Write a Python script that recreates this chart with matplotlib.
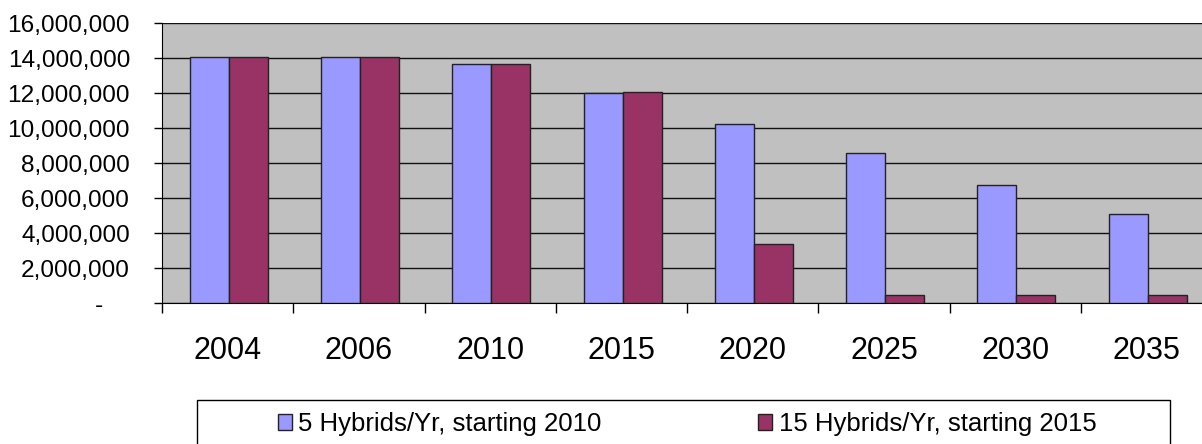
import matplotlib
matplotlib.use("Agg")
import matplotlib.pyplot as plt
from matplotlib.ticker import FuncFormatter, FixedLocator
from matplotlib.patches import Rectangle, Patch
import numpy as np

years = ["2004", "2006", "2010", "2015", "2020", "2025", "2030", "2035"]
series1_name = "5 Hybrids/Yr, starting 2010"
series2_name = "15 Hybrids/Yr, starting 2015"
series1 = [14070000, 14080000, 13670000, 11990000, 10230000, 8580000, 6750000, 5090000]
series2 = [14070000, 14080000, 13680000, 12070000, 3370000, 440000, 440000, 440000]

plt.rcParams['font.family'] = ['Liberation Sans', 'DejaVu Sans']

fig = plt.figure(figsize=(12.02, 4.44), dpi=100)
W, H = 1202, 444
ax = fig.add_axes([162 / W, 1 - 303 / H, (1212 - 162) / W, (303 - 23.3) / H])
ax.set_facecolor("#C0C0C0")

x = np.arange(len(years))
w = 0.297
ax.bar(x - w / 2 + 0.01, series1, width=w, color="#9999FF", edgecolor="#222222", linewidth=1, zorder=3)
ax.bar(x + w / 2 + 0.01, series2, width=w, color="#993366", edgecolor="#222222", linewidth=1, zorder=3)

ax.set_xlim(-0.5, len(years) - 0.5)
ax.set_ylim(0, 16000000)
ax.set_yticks(np.arange(0, 16000001, 2000000))
ax.yaxis.set_major_formatter(FuncFormatter(lambda v, p: "-    " if v == 0 else f"{v:,.0f}"))
ax.grid(axis="y", color="#111111", linewidth=1, zorder=1)
ax.set_axisbelow(True)

ax.xaxis.set_major_locator(FixedLocator(np.arange(-0.5, len(years), 1.0)))
ax.xaxis.set_minor_locator(FixedLocator(x))
ax.set_xticklabels([])
ax.set_xticklabels(years, minor=True)
ax.tick_params(axis="x", which="major", length=7, width=1, direction="out", color="black")
ax.tick_params(axis="x", which="minor", length=0, pad=24, labelsize=22)
ax.tick_params(axis="y", length=6, width=1, direction="out", pad=17, labelsize=17.6)

for s in ["top", "right"]:
    ax.spines[s].set_visible(False)
ax.spines["left"].set_color("black")
ax.spines["bottom"].set_color("black")

# legend frame
fig.patches.append(Rectangle((197 / W, -0.05), (1170 - 197) / W, (1 - 400 / H) + 0.05,
                             transform=fig.transFigure, fill=False, edgecolor="black", linewidth=1))
handles = [Patch(facecolor="#9999FF", edgecolor="#222222", label=series1_name),
           Patch(facecolor="#993366", edgecolor="#222222", label=series2_name)]
fig.legend(handles=handles, loc="center", bbox_to_anchor=(687 / W, 1 - 424 / H), ncol=2,
           frameon=False, fontsize=18.5, handlelength=0.55, handleheight=0.55, handletextpad=0.25,
           columnspacing=6.1, borderpad=0)

fig.savefig("out.png", dpi=100)
